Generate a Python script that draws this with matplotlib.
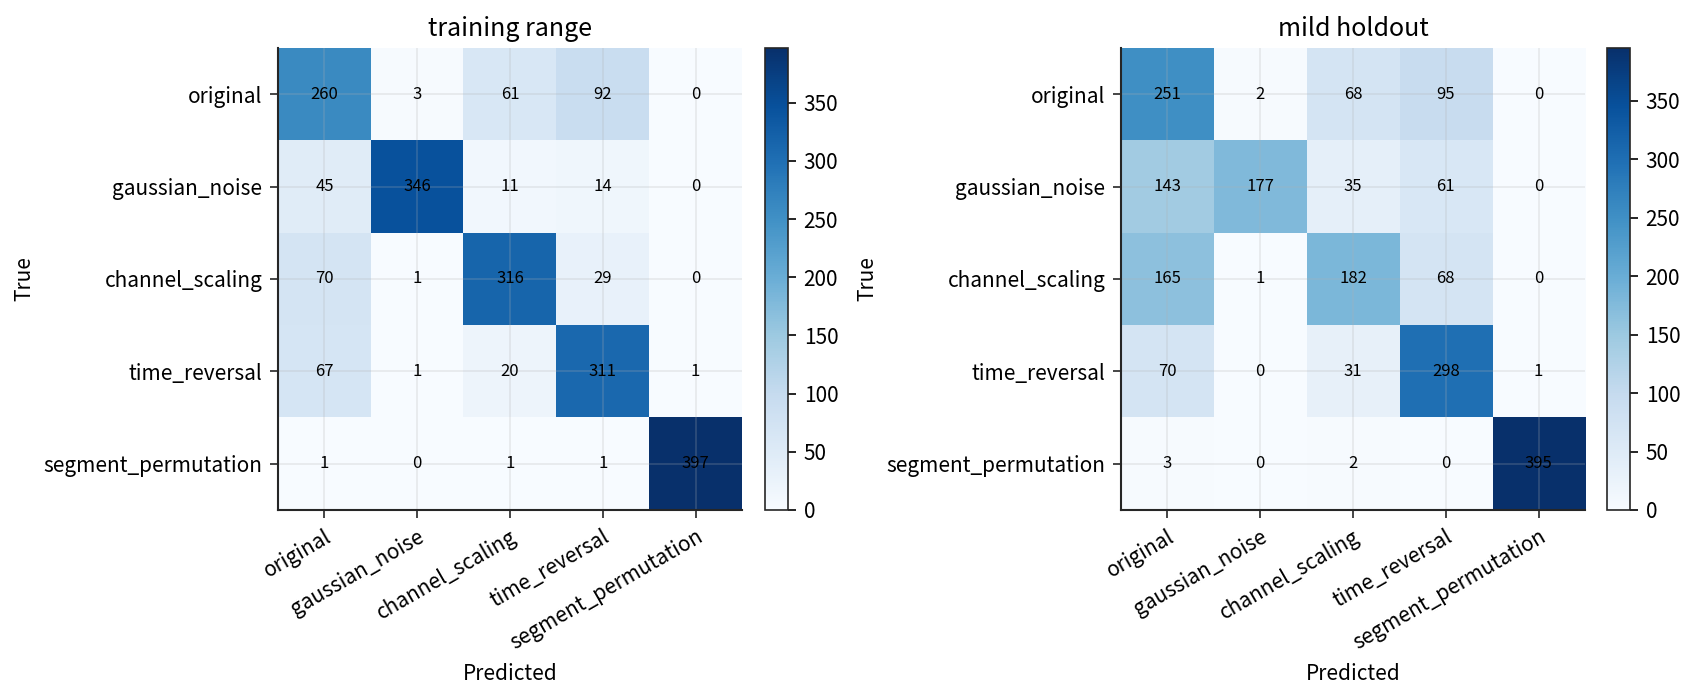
import numpy as np
import matplotlib.pyplot as plt

plt.rcParams['font.family'] = ['Noto Sans CJK TC', 'DejaVu Sans']

labels = ['original', 'gaussian_noise', 'channel_scaling', 'time_reversal', 'segment_permutation']

cm_train = np.array([
    [260, 3, 61, 92, 0],
    [45, 346, 11, 14, 0],
    [70, 1, 316, 29, 0],
    [67, 1, 20, 311, 1],
    [1, 0, 1, 1, 397],
])
cm_mild = np.array([
    [251, 2, 68, 95, 0],
    [143, 177, 35, 61, 0],
    [165, 1, 182, 68, 0],
    [70, 0, 31, 298, 1],
    [3, 0, 2, 0, 395],
])
titles = ['training range', 'mild holdout']

W, H = 1696, 699
fig = plt.figure(figsize=(W / 150, H / 150), dpi=150)

# pixel boxes: (axes left, axes right, cbar left, cbar right)
boxes = [(278, 742, 765, 788), (1121, 1585, 1607, 1630)]
top, bot = 48, 510

for cm, title, (l, r, cl, cr) in zip([cm_train, cm_mild], titles, boxes):
    ax = fig.add_axes([l / W, (H - bot) / H, (r - l) / W, (bot - top) / H])
    cax = fig.add_axes([cl / W, (H - bot) / H, (cr - cl) / W, (bot - top) / H])
    im = ax.imshow(cm, cmap='Blues', vmin=0, vmax=cm.max(), aspect='auto')
    for i in range(cm.shape[0]):
        for j in range(cm.shape[1]):
            ax.text(j, i, str(cm[i, j]), ha='center', va='center', fontsize=8, color='black')
    ax.set_xticks(range(len(labels)))
    ax.set_yticks(range(len(labels)))
    ax.set_xticklabels(labels, rotation=30, ha='right', rotation_mode='anchor', fontsize=10)
    ax.set_yticklabels(labels, fontsize=10)
    ax.set_xlabel('Predicted', fontsize=10)
    ax.set_ylabel('True', fontsize=10)
    ax.set_title(title, fontsize=12)
    ax.grid(True, color='#b0b0b0', alpha=0.25, linewidth=0.8)
    ax.spines['top'].set_visible(False)
    ax.spines['right'].set_visible(False)
    for s in ['left', 'bottom']:
        ax.spines[s].set_color('#262626')
        ax.spines[s].set_linewidth(1.0)
    ax.tick_params(colors='#262626', labelcolor='black', length=4)
    cb = fig.colorbar(im, cax=cax)
    cb.outline.set_edgecolor('#262626')
    cb.ax.tick_params(labelsize=10, length=4)
    cb.set_ticks([0, 50, 100, 150, 200, 250, 300, 350])

fig.savefig('out.png', dpi=150)
